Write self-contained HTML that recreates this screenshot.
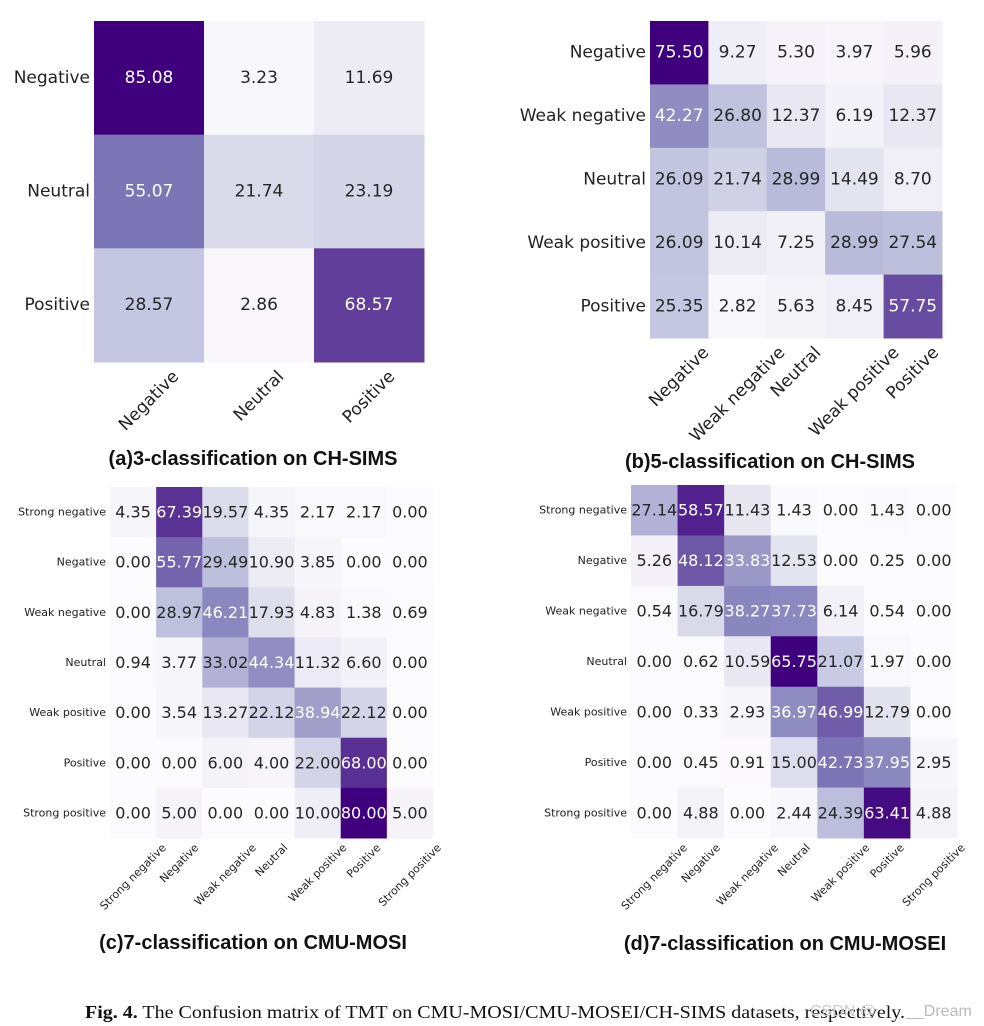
<!DOCTYPE html>
<html><head><meta charset="utf-8">
<style>
html,body{margin:0;padding:0;background:#fff;}
svg{display:block;}
.tl{font-family:"DejaVu Sans","Liberation Sans",sans-serif;fill:#222;}
.ttl{font-family:"Liberation Sans",sans-serif;font-weight:bold;fill:#111;}
</style></head>
<body>
<svg id="fig" width="984" height="1026" viewBox="0 0 984 1026" xmlns="http://www.w3.org/2000/svg">
<text class="ttl" x="253" y="465" font-size="20" text-anchor="middle">(a)3-classification on CH-SIMS</text>
<text class="ttl" x="770" y="468" font-size="20" text-anchor="middle">(b)5-classification on CH-SIMS</text>
<text class="ttl" x="253" y="949" font-size="20" text-anchor="middle">(c)7-classification on CMU-MOSI</text>
<text class="ttl" x="785" y="950" font-size="20" text-anchor="middle">(d)7-classification on CMU-MOSEI</text>
<text x="85" y="1018" font-family="Liberation Serif,serif" font-size="18" fill="#111" textLength="820" lengthAdjust="spacingAndGlyphs"><tspan font-weight="bold">Fig. 4.</tspan>  The Confusion matrix of TMT on CMU-MOSI/CMU-MOSEI/CH-SIMS datasets, respectively.</text>
<text x="810" y="1016" font-family="Liberation Sans,sans-serif" font-size="16" fill="#ccc">CSDN @</text>
<text x="906" y="1016" font-family="Liberation Sans,sans-serif" font-size="16" fill="#bbb">__Dream</text>
</svg>
<script>
const labelsA = ["Negative","Neutral","Positive"];
const valuesA = [[85.08,3.23,11.69],[55.07,21.74,23.19],[28.57,2.86,68.57]];
const labelsB = ["Negative","Weak negative","Neutral","Weak positive","Positive"];
const valuesB = [[75.50,9.27,5.30,3.97,5.96],[42.27,26.80,12.37,6.19,12.37],[26.09,21.74,28.99,14.49,8.70],[26.09,10.14,7.25,28.99,27.54],[25.35,2.82,5.63,8.45,57.75]];
const labels7 = ["Strong negative","Negative","Weak negative","Neutral","Weak positive","Positive","Strong positive"];
const valuesC = [[4.35,67.39,19.57,4.35,2.17,2.17,0.00],[0.00,55.77,29.49,10.90,3.85,0.00,0.00],[0.00,28.97,46.21,17.93,4.83,1.38,0.69],[0.94,3.77,33.02,44.34,11.32,6.60,0.00],[0.00,3.54,13.27,22.12,38.94,22.12,0.00],[0.00,0.00,6.00,4.00,22.00,68.00,0.00],[0.00,5.00,0.00,0.00,10.00,80.00,5.00]];
const valuesD = [[27.14,58.57,11.43,1.43,0.00,1.43,0.00],[5.26,48.12,33.83,12.53,0.00,0.25,0.00],[0.54,16.79,38.27,37.73,6.14,0.54,0.00],[0.00,0.62,10.59,65.75,21.07,1.97,0.00],[0.00,0.33,2.93,36.97,46.99,12.79,0.00],[0.00,0.45,0.91,15.00,42.73,37.95,2.95],[0.00,4.88,0.00,2.44,24.39,63.41,4.88]];

const stops=[[252,251,253],[239,237,245],[218,218,235],[188,189,220],[158,154,200],[128,125,186],[106,81,163],[84,39,143],[63,0,125]];
function purples(t){t=Math.max(0,Math.min(1,t));const p=t*8,i=Math.min(7,Math.floor(p)),f=p-i;
 const c=stops[i].map((v,k)=>Math.round(v+(stops[i+1][k]-v)*f));return `rgb(${c[0]},${c[1]},${c[2]})`;}
const NS="http://www.w3.org/2000/svg";
const svg=document.getElementById('fig');
function mk(tag,attrs,parent){const e=document.createElementNS(NS,tag);for(const k in attrs)e.setAttribute(k,attrs[k]);(parent||svg).appendChild(e);return e;}

function heat(id,labels,vals,x0,y0,x1,y1,tickFs,valFs,labOff){
 const g=mk('g',{});
 
 
 const n=labels.length;
 const xs=i=>x0+(x1-x0)*i/n, ys=i=>y0+(y1-y0)*i/n;
 const cw=(x1-x0)/n, ch=(y1-y0)/n;
 let mx=0;vals.forEach(r=>r.forEach(v=>{if(v>mx)mx=v;}));
 vals.forEach((row,r)=>row.forEach((v,c)=>{
  const rect=mk('rect',{x:xs(c),y:ys(r),width:cw+0.5,height:ch+0.5,fill:purples(v/mx)},g);
  
  
 }));
 vals.forEach((row,r)=>row.forEach((v,c)=>{
  const t=mk('text',{x:xs(c)+cw/2,y:ys(r)+ch/2,'font-size':valFs,'text-anchor':'middle','dominant-baseline':'central',class:'tl'},g);
  
  
  t.style.fill=(v/mx>0.45)?'#fff':'#262626';
  t.textContent=v.toFixed(2);
 }));
 labels.forEach((l,i)=>{
  const t=mk('text',{x:x0-4,y:ys(i)+ch/2,'font-size':tickFs,'text-anchor':'end','dominant-baseline':'central',class:'tl'},g);
  
  
  t.textContent=l;
  const cx=xs(i)+cw/2;
  const u=mk('text',{x:0,y:0,'font-size':tickFs,'text-anchor':'middle',class:'tl','dominant-baseline':'central'},g);
  
  
  u.textContent=l;
  const L=u.getComputedTextLength();
  const cy=y1+labOff+L*0.3536+tickFs*0.35;
  u.setAttribute('x',cx);u.setAttribute('y',cy);
  u.setAttribute('transform',`rotate(-45 ${cx} ${cy})`);
 });
}
heat('a',labelsA,valuesA,94,21,424,362,17,17,6);
heat('b',labelsB,valuesB,650,21,942,338,17,17,6);
heat('c',labels7,valuesC,110,487,433,838,11,16,4);
heat('d',labels7,valuesD,631,485,957,838,11,16,4);
</script>
</body></html>
